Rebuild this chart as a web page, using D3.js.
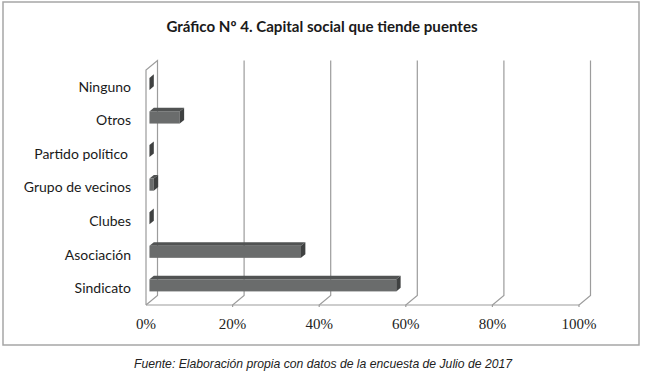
<!DOCTYPE html>
<html>
<head>
<meta charset="utf-8">
<script src="https://cdn.jsdelivr.net/npm/d3@7"></script>
<style>
  body { margin: 0; background: #fff; }
  svg { display: block; }
</style>
</head>
<body>
<svg id="chart"></svg>
<script>
// data (percent)
const categories = ["Ninguno", "Otros", "Partido político ", "Grupo de vecinos", "Clubes", "Asociación", "Sindicato"];
const values = [0, 7, 0, 1, 0, 35, 57];
const tickValues = [0, 20, 40, 60, 80, 100];
const tickLabels = ["0%", "20%", "40%", "60%", "80%", "100%"];

const width = 646, height = 376;
const svg = d3.select("#chart").attr("width", width).attr("height", height);

// outer frame
svg.append("rect")
  .attr("x", 3).attr("y", 2)
  .attr("width", 636).attr("height", 343)
  .attr("fill", "#fff")
  .attr("stroke", "#a6a6a6")
  .attr("stroke-width", 1.5);

// title
svg.append("text")
  .attr("x", 322).attr("y", 32)
  .attr("text-anchor", "middle")
  .style("font-family", "Lato")
  .style("font-weight", "bold")
  .style("font-size", "15.1px")
  .style("fill", "#1a1a1a")
  .text("Gráfico Nº 4. Capital social que tiende puentes");

// front plane scales
const x = d3.scaleLinear().domain([0, 100]).range([146, 579]);
const y = d3.scaleBand().domain(categories).range([70, 305])
  .paddingInner(0.64).paddingOuter(0.32);
const yTop = 70, yBot = 305;

// depth vector of the whole 3d box, and where bars sit in it
const depth = { x: 11.5, y: -9.5 };
const barFront = 0.3, barBack = 0.68;

const grid = svg.append("g")
  .attr("fill", "none")
  .attr("stroke", "#9c9c9c")
  .attr("stroke-width", 1.2);

// left wall
grid.append("path")
  .attr("d", d3.line()([
    [x(0), yBot], [x(0), yTop], [x(0) + depth.x, yTop + depth.y], [x(0) + depth.x, yBot + depth.y], [x(0), yBot]
  ]));

// floor front edge
grid.append("line")
  .attr("x1", x(0)).attr("x2", x(100))
  .attr("y1", yBot).attr("y2", yBot);

// back gridlines + floor diagonals
grid.selectAll(".gl")
  .data(tickValues.filter(d => d > 0))
  .join("path")
  .attr("class", "gl")
  .attr("d", d => d3.line()([
    [x(d) + depth.x, yTop + depth.y],
    [x(d) + depth.x, yBot + depth.y],
    [x(d), yBot],
    [x(d), yBot + 2]
  ]));

// x tick labels
svg.append("g").selectAll("text")
  .data(tickValues)
  .join("text")
  .attr("x", d => x(d))
  .attr("y", 329)
  .attr("text-anchor", "middle")
  .style("font-family", "'Liberation Serif', 'DejaVu Serif', serif")
  .style("font-size", "15px")
  .style("fill", "#222")
  .text((d, i) => tickLabels[i]);

// category labels
svg.append("g").selectAll("text")
  .data(categories)
  .join("text")
  .attr("x", d => d.endsWith(" ") ? 128 : 131)
  .attr("y", d => y(d) + y.bandwidth() / 2)
  .attr("dy", "0.35em")
  .attr("text-anchor", "end")
  .style("font-family", "Lato")
  .style("font-size", "14px")
  .style("fill", "#1a1a1a")
  .text(d => d.trim());

// 3d bars
const fx = depth.x * barFront, fy = depth.y * barFront;
const bx = depth.x * (barBack - barFront), by = depth.y * (barBack - barFront);

const bars = svg.append("g").selectAll("g")
  .data(categories.map((c, i) => ({ cat: c, val: values[i] })))
  .join("g");

// front face
bars.append("rect")
  .attr("x", x(0) + fx)
  .attr("y", d => y(d.cat) + fy)
  .attr("width", d => x(d.val) - x(0))
  .attr("height", y.bandwidth())
  .attr("fill", "#6a6c6c");

// top face
bars.append("path")
  .attr("fill", "#515353")
  .attr("d", d => {
    const x0 = x(0) + fx, x1 = x(d.val) + fx, t = y(d.cat) + fy;
    return d3.line()([[x0, t], [x0 + bx, t + by], [x1 + bx, t + by], [x1, t]]) + "Z";
  });

// right face
bars.append("path")
  .attr("fill", "#3f4141")
  .attr("d", d => {
    const x1 = x(d.val) + fx, t = y(d.cat) + fy, b = t + y.bandwidth();
    return d3.line()([[x1, t], [x1 + bx, t + by], [x1 + bx, b + by], [x1, b]]) + "Z";
  });

// source note
svg.append("text")
  .attr("x", 323).attr("y", 368)
  .attr("text-anchor", "middle")
  .style("font-family", "Liberation Sans")
  .style("font-style", "italic")
  .style("font-size", "12.2px")
  .style("fill", "#222")
  .text("Fuente: Elaboración propia con datos de la encuesta de Julio de 2017");
</script>
</body>
</html>
